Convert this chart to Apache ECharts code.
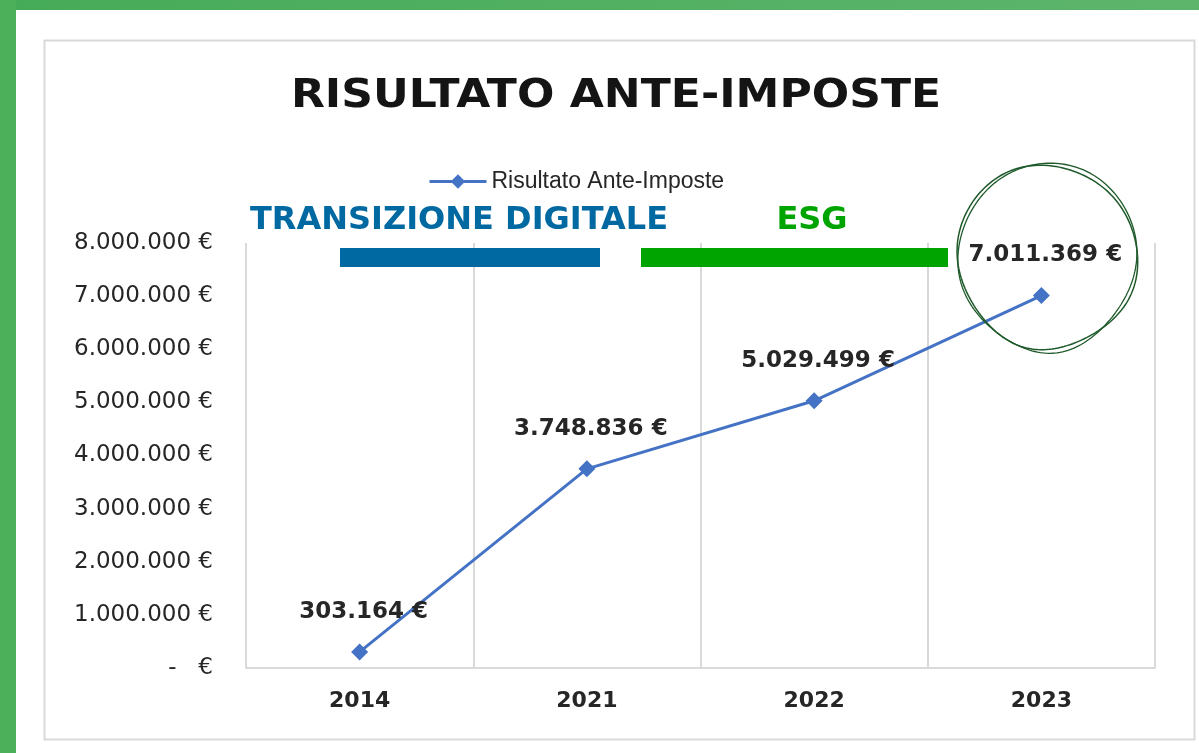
<!DOCTYPE html>
<html>
<head>
<meta charset="utf-8">
<script src="https://cdn.jsdelivr.net/npm/echarts@6/dist/echarts.min.js"></script>
<style>
  html, body { margin: 0; padding: 0; background: #fff; }
  #chart { width: 1199px; height: 753px; }
</style>
</head>
<body>
<div id="chart"></div>
<script>
const years = ['2014', '2021', '2022', '2023'];
const risultato = [303164, 3748836, 5029499, 7011369];
const yTicks = { min: 0, max: 8000000, interval: 1000000 };
const seriesName = 'Risultato Ante-Imposte';
const titleText = 'RISULTATO ANTE-IMPOSTE';
const bands = [
  { label: 'TRANSIZIONE DIGITALE', color: '#0069a1' },
  { label: 'ESG', color: '#00a400' }
];

// 1234567 -> "1.234.567 €"  (zero shown as accounting dash)
const euro = v => {
  if (v === 0) return '-   €';
  return String(Math.round(v)).replace(/\B(?=(\d{3})+(?!\d))/g, '.') + ' €';
};

const chart = echarts.init(document.getElementById('chart'));

const option = {
  animation: false,
  backgroundColor: '#fff',
  legend: {
    data: [seriesName],
    left: 423,
    top: 165,
    itemWidth: 57,
    itemHeight: 18,
    itemGap: 7,
    lineStyle: { width: 3 },
    textStyle: {
      fontFamily: 'Liberation Sans',
      fontSize: 23,
      color: '#262626'
    }
  },
  grid: {
    left: 246,
    right: 44,
    top: 243,
    bottom: 85
  },
  xAxis: {
    type: 'category',
    data: years,
    boundaryGap: true,
    axisLine: { lineStyle: { color: '#d9d9d9', width: 2 } },
    axisTick: { show: false },
    axisLabel: {
      margin: 22,
      fontFamily: 'DejaVu Sans',
      fontWeight: 'bold',
      fontSize: 22,
      color: '#262626'
    },
    splitLine: { show: true, lineStyle: { color: '#d9d9d9', width: 2 } }
  },
  yAxis: {
    type: 'value',
    min: yTicks.min,
    max: yTicks.max,
    interval: yTicks.interval,
    axisLine: { show: false },
    axisTick: { show: false },
    splitLine: { show: false },
    axisLabel: {
      margin: 33,
      fontFamily: 'DejaVu Sans',
      fontSize: 23,
      color: '#262626',
      formatter: euro
    }
  },
  series: [
    {
      name: seriesName,
      type: 'line',
      data: risultato,
      symbol: 'diamond',
      symbolSize: 17,
      lineStyle: { color: '#4472c4', width: 3 },
      itemStyle: { color: '#4472c4' },
      label: {
        show: true,
        position: 'top',
        distance: 20,
        offset: [4, 0],
        fontFamily: 'DejaVu Sans',
        fontWeight: 'bold',
        fontSize: 23,
        color: '#262626',
        formatter: p => euro(p.value)
      }
    }
  ]
};

chart.setOption(option);

// hand-drawn double loop around the last value
const last = chart.convertToPixel({ seriesIndex: 0 }, [years.length - 1, risultato[risultato.length - 1]]);
const cx = last[0] + 6;
const cy = last[1] - 39;
function wobble(t0, span, rx0, ry0, ax, ay, ph) {
  const pts = [];
  const N = 200;
  for (let i = 0; i <= N; i++) {
    const t = t0 + (i / N) * span;
    const rx = rx0 + ax * Math.sin(2 * t + ph);
    const ry = ry0 + ay * Math.cos(3 * t + ph);
    pts.push([cx + rx * Math.cos(t), cy + ry * Math.sin(t)]);
  }
  return pts;
}
const loopA = wobble(-2.0, Math.PI * 2 + 0.35, 89, 92, 3, 2.5, 0.4);
const loopB = wobble(-1.6, Math.PI * 2 + 0.5, 86, 95, 4, 2, 2.1);

chart.setOption({
  graphic: [
    // green frame
    {
      type: 'rect', silent: true,
      shape: { x: 0, y: 0, width: 1199, height: 10 },
      style: {
        fill: new echarts.graphic.LinearGradient(0, 0, 1, 0, [
          { offset: 0, color: '#46ab59' },
          { offset: 1, color: '#5db56c' }
        ])
      }
    },
    {
      type: 'rect', silent: true,
      shape: { x: 0, y: 0, width: 16, height: 753 },
      style: { fill: '#4caf5a' }
    },
    // panel border
    {
      type: 'rect', silent: true, z: -1,
      shape: { x: 44.5, y: 40.5, width: 1150, height: 699 },
      style: { fill: 'none', stroke: '#d9d9d9', lineWidth: 2 }
    },
    // title, slightly widened like the source
    {
      type: 'text', silent: true,
      x: 616, y: 97, scaleX: 1.13,
      style: {
        x: 0, y: 0, text: titleText, fill: '#141414',
        font: 'bold 39px "DejaVu Sans"', align: 'center', verticalAlign: 'middle'
      }
    },
    // period labels and bars
    {
      type: 'text', silent: true,
      style: {
        x: 250, y: 221, text: bands[0].label, fill: bands[0].color,
        font: 'bold 32px "DejaVu Sans"', verticalAlign: 'middle'
      }
    },
    {
      type: 'rect', silent: true,
      shape: { x: 340, y: 248, width: 260, height: 19 },
      style: { fill: bands[0].color }
    },
    {
      type: 'text', silent: true,
      style: {
        x: 812, y: 221, text: bands[1].label, fill: bands[1].color,
        font: 'bold 32px "DejaVu Sans"', align: 'center', verticalAlign: 'middle'
      }
    },
    {
      type: 'rect', silent: true,
      shape: { x: 641, y: 248, width: 307, height: 19 },
      style: { fill: bands[1].color }
    },
    {
      type: 'polyline', silent: true, z: 100,
      shape: { points: loopA },
      style: { fill: 'none', stroke: '#1e5a2a', lineWidth: 1.5 }
    },
    {
      type: 'polyline', silent: true, z: 100,
      shape: { points: loopB },
      style: { fill: 'none', stroke: '#1e5a2a', lineWidth: 1.3 }
    }
  ]
});

window.addEventListener('resize', function () {
  chart.resize();
});
</script>
</body>
</html>
